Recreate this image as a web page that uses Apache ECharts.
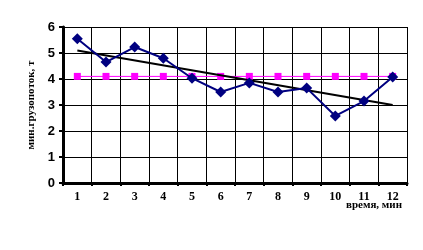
<!DOCTYPE html>
<html><head><meta charset="utf-8">
<script src="https://cdn.jsdelivr.net/npm/echarts@6/dist/echarts.min.js"></script>
<style>html,body{margin:0;padding:0;background:#fff}#c{width:423px;height:250px}</style>
</head><body><div id="c"></div>
<script>
var categories = ['1','2','3','4','5','6','7','8','9','10','11','12'];
var flowValues = [5.55, 4.65, 5.23, 4.8, 4.03, 3.5, 3.85, 3.5, 3.65, 2.58, 3.15, 4.08];
var minValues = [4.1, 4.1, 4.1, 4.1, 4.1, 4.1, 4.1, 4.1, 4.1, 4.1, 4.1, 4.1];
var trendStart = 5.1, trendEnd = 3.0;
var yTicks = [0, 1, 2, 3, 4, 5, 6];

var chart = echarts.init(document.getElementById('c'));
chart.setOption({
  animation: false,
  title: {text: 'время, мин', right: 21, top: 200, padding: 0,
    textStyle: {fontFamily: 'Liberation Serif', fontWeight: 'bold', fontSize: 11, color: '#000'}},
  grid: {left: 63, right: 16, top: 27, bottom: 67, outerBoundsMode: 'none', containLabel: false},
  xAxis: {
    type: 'category', data: categories, boundaryGap: true,
    axisLine: {lineStyle: {color: '#000', width: 3}},
    axisTick: {show: true, length: 3, lineStyle: {color: '#000', width: 2}},
    axisLabel: {fontFamily: 'Liberation Serif', fontWeight: 'bold', fontSize: 12, color: '#000', margin: 8},
    splitLine: {show: true, lineStyle: {color: '#000', width: 1}}
  },
  yAxis: {
    type: 'value', min: yTicks[0], max: yTicks[yTicks.length-1], interval: 1,
    name: 'мин.грузопоток, т', nameLocation: 'middle', nameGap: 26,
    nameTextStyle: {fontFamily: 'Liberation Serif', fontWeight: 'bold', fontSize: 11, color: '#000'},
    axisLine: {show: true, lineStyle: {color: '#000', width: 3}},
    axisTick: {show: true, length: 4, lineStyle: {color: '#000', width: 2}},
    axisLabel: {fontFamily: 'Liberation Sans', fontWeight: 'bold', fontSize: 13, color: '#000', margin: 8},
    splitLine: {show: true, lineStyle: {color: '#000', width: 1}}
  },
  series: [
    {type: 'line', data: minValues, symbol: 'rect', symbolSize: 7,
     lineStyle: {color: '#FF00FF', width: 1}, itemStyle: {color: '#FF00FF'}, z: 3},
    {type: 'line', data: [[categories[0], trendStart], [categories[11], trendEnd]], symbol: 'none',
     lineStyle: {color: '#000', width: 2}, z: 4},
    {type: 'line', data: flowValues, symbol: 'diamond', symbolSize: 11,
     lineStyle: {color: '#000080', width: 2}, itemStyle: {color: '#000080'}, z: 5}
  ]
});
</script></body></html>
